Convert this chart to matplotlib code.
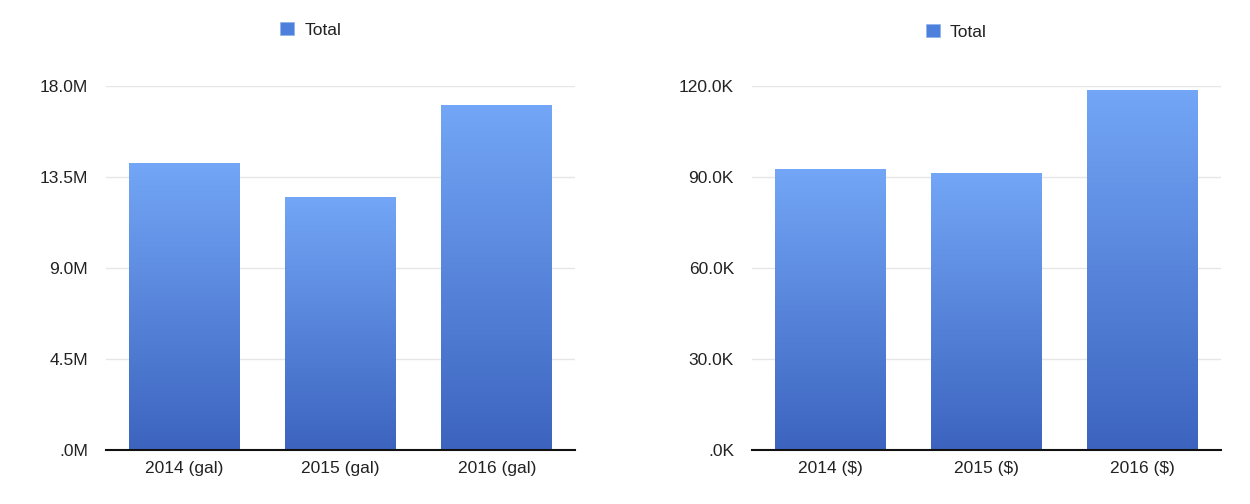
import matplotlib.pyplot as plt
import numpy as np
from matplotlib.colors import LinearSegmentedColormap
from matplotlib.patches import Rectangle
from matplotlib.ticker import FuncFormatter

gal_labels = ['2014 (gal)', '2015 (gal)', '2016 (gal)']
gal_values = [14.19e6, 12.51e6, 17.03e6]
gal_ticks = [0, 4.5e6, 9.0e6, 13.5e6, 18.0e6]

usd_labels = ['2014 ($)', '2015 ($)', '2016 ($)']
usd_values = [92.4e3, 91.2e3, 118.6e3]
usd_ticks = [0, 30e3, 60e3, 90e3, 120e3]

plt.rcParams['font.family'] = ['Liberation Sans', 'DejaVu Sans']
cmap = LinearSegmentedColormap.from_list('bar', ['#3c64bf', '#73a6f6'])
grad = np.linspace(0, 1, 256).reshape(-1, 1)


def draw(ax, labels, values, ticks, fmt, leg_y):
    x = np.arange(len(labels))
    w = 0.71
    bars = ax.bar(x, values, width=w, color='none', zorder=2)
    for b in bars:
        x0, y0 = b.get_x(), b.get_y()
        ax.imshow(grad, cmap=cmap, origin='lower', aspect='auto', zorder=2,
                  extent=[x0, x0 + b.get_width(), y0, y0 + b.get_height()])
    ax.set_xlim(-0.5, len(labels) - 0.5)
    ax.set_ylim(0, ticks[-1])
    ax.set_yticks(ticks)
    ax.yaxis.set_major_formatter(FuncFormatter(fmt))
    ax.set_xticks(x)
    ax.set_xticklabels(labels)
    ax.grid(axis='y', color='#e6e6e6', linewidth=1, zorder=0)
    ax.set_axisbelow(True)
    for s in ['top', 'right', 'left']:
        ax.spines[s].set_visible(False)
    ax.spines['bottom'].set_color('#111111')
    ax.spines['bottom'].set_linewidth(1.5)
    ax.spines['bottom'].set_zorder(3)
    ax.tick_params(length=0, labelsize=12.5, colors='#222222')
    ax.tick_params(axis='y', pad=13)
    ax.tick_params(axis='x', pad=8)
    # legend
    sq = Rectangle((0, 0), 1, 1, facecolor='#4d7fdc', edgecolor='#8fb3ee', linewidth=0.5)
    ax.legend([sq], ['Total'], loc='lower center', bbox_to_anchor=(0.436, leg_y),
              frameon=False, fontsize=12.5, handlelength=0.8, handleheight=0.8,
              handletextpad=0.6, labelcolor='#222222')


fig = plt.figure(figsize=(12.5, 5.04), dpi=100)
ax1 = fig.add_axes([0.085, 0.107, 0.375, 0.722])
ax2 = fig.add_axes([0.6016, 0.107, 0.375, 0.722])

draw(ax1, gal_labels, gal_values, gal_ticks,
     lambda v, p: '.0M' if v == 0 else '%.1fM' % (v / 1e6), 1.09)
draw(ax2, usd_labels, usd_values, usd_ticks,
     lambda v, p: '.0K' if v == 0 else '%.1fK' % (v / 1e3), 1.085)

fig.savefig('out.png', dpi=100)
